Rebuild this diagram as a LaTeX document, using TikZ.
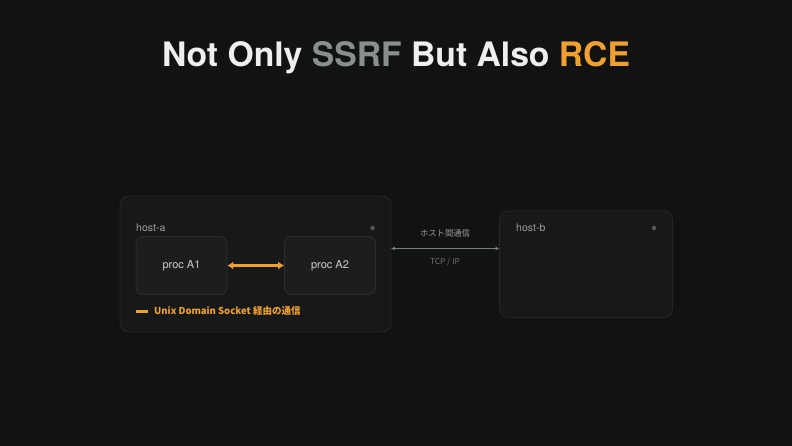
\documentclass[tikz,border=0pt]{standalone}
\usepackage{fontspec}
\setmainfont{TeX Gyre Heros}
\newfontfamily\jp{Noto Sans CJK JP}
\usetikzlibrary{arrows.meta}
\definecolor{bg}{HTML}{111212}
\definecolor{hostfill}{HTML}{171818}
\definecolor{hostline}{HTML}{262828}
\definecolor{procfill}{HTML}{1C1E1E}
\definecolor{procline}{HTML}{2D2F2F}
\definecolor{titlewhite}{HTML}{EEEFEE}
\definecolor{titlegray}{HTML}{8A8F8C}
\definecolor{accent}{HTML}{F0A030}
\definecolor{labelgray}{HTML}{9C9F9D}
\definecolor{dimgray}{HTML}{6E7270}
\definecolor{linkgray}{HTML}{7A7E7C}
\definecolor{dotgray}{HTML}{555857}
\tikzset{
  hostbox/.style={draw=hostline, fill=hostfill, line width=0.8pt, rounded corners=9pt},
  procbox/.style={draw=procline, fill=procfill, line width=0.8pt, rounded corners=7pt,
    text=titlewhite!85!black, font=\fontsize{11}{13}\selectfont},
  hostlabel/.style={text=labelgray, font=\fontsize{10.5}{12}\selectfont, anchor=west, inner sep=0pt},
  statusdot/.style={circle, fill=dotgray, minimum size=4.5pt, inner sep=0pt},
  smalllabel/.style={font=\jp\fontsize{8.3}{10}\selectfont, inner sep=0pt}
}
\begin{document}
\begin{tikzpicture}[x=1pt,y=-1pt]
\fill[bg] (0,0) rectangle (792,446);
\useasboundingbox (0,0) rectangle (792,446);
% title
\node (title) at (396,57.5) {\fontsize{33.7}{40}\selectfont\bfseries
  \textcolor{titlewhite}{Not Only} \textcolor{titlegray}{SSRF} \textcolor{titlewhite}{But Also} \textcolor{accent}{RCE}};
% host a
\draw[hostbox] (120,196) rectangle (391,332);
\coordinate (hostaE) at (391,248.5);
\node[hostlabel] (hosta) at (136,228) {host-a};
\node[statusdot] (dota) at (372.5,228) {};
\node[procbox, minimum width=91pt, minimum height=58pt] (a1) at (181.5,265.5) {proc A1};
\node[procbox, minimum width=91pt, minimum height=58pt] (a2) at (330,265.5) {proc A2};
\draw[accent, line width=2.6pt, {Latex[length=6pt,width=8pt]}-{Latex[length=6pt,width=8pt]}] (a1.east) -- (a2.west);
% legend
\draw[accent, line width=3pt] (136,311) -- (148,311);
\node[anchor=west, inner sep=0pt, text=accent] (legend) at (154,311)
  {\jp\bfseries\fontsize{9.5}{11}\selectfont Unix Domain Socket 経由の通信};
% host b
\draw[hostbox] (499.5,211) rectangle (672.5,317.5);
\coordinate (hostbW) at (499.5,248.5);
\node[hostlabel] (hostb) at (516,228) {host-b};
\node[statusdot] (dotb) at (654,228) {};
% link
\draw[linkgray, line width=1.1pt, {Latex[length=4pt,width=4pt]}-{Latex[length=4pt,width=4pt]}] (hostaE) -- (hostbW);
\node[smalllabel, text=labelgray] (jpl) at (445,233.5) {ホスト間通信};
\node[smalllabel, text=dimgray] (tcp) at (445,261.5) {TCP / IP};
\end{tikzpicture}
\end{document}
